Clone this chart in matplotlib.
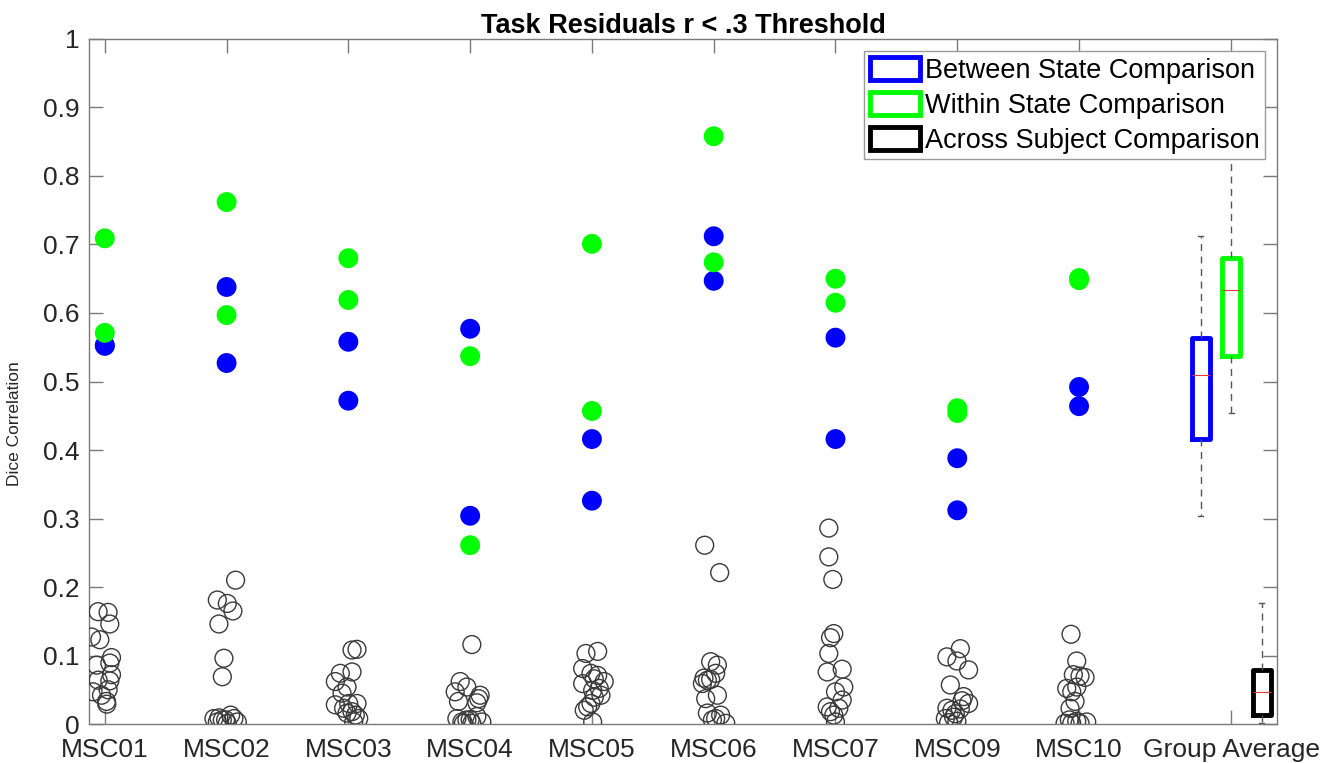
import numpy as np
import matplotlib.pyplot as plt
from matplotlib.patches import Patch

plt.rcParams['font.family'] = ['Liberation Sans', 'DejaVu Sans']

# --- data ---
subjects = ['MSC01', 'MSC02', 'MSC03', 'MSC04', 'MSC05', 'MSC06', 'MSC07', 'MSC09', 'MSC10']

# between-state dice (two per subject)
between = [[0.553, 0.552], [0.638, 0.527], [0.558, 0.472], [0.577, 0.304], [0.416, 0.326],
           [0.712, 0.647], [0.564, 0.416], [0.388, 0.312], [0.492, 0.464]]
# within-state dice (two per subject)
within = [[0.709, 0.571], [0.762, 0.597], [0.680, 0.619], [0.537, 0.261], [0.701, 0.457],
          [0.858, 0.674], [0.650, 0.615], [0.461, 0.454], [0.651, 0.648]]

# across-subject dice (16 per subject) and their horizontal scatter offsets
across = [
    [0.164, 0.163, 0.146, 0.127, 0.123, 0.097, 0.086, 0.089, 0.072, 0.064, 0.063, 0.047, 0.050, 0.042, 0.033, 0.029],
    [0.210, 0.181, 0.176, 0.165, 0.146, 0.096, 0.069, 0.008, 0.009, 0.006, 0.013, 0.008, 0.003, 0.003, 0.001, 0.006],
    [0.108, 0.109, 0.076, 0.074, 0.062, 0.054, 0.045, 0.028, 0.023, 0.030, 0.030, 0.018, 0.013, 0.008, 0.003, 0.016],
    [0.116, 0.062, 0.054, 0.047, 0.042, 0.037, 0.033, 0.031, 0.008, 0.003, 0.006, 0.001, 0.011, 0.003, 0.001, 0.006],
    [0.103, 0.106, 0.081, 0.074, 0.071, 0.062, 0.059, 0.066, 0.052, 0.049, 0.042, 0.039, 0.030, 0.020, 0.003, 0.025],
    [0.261, 0.221, 0.091, 0.086, 0.074, 0.067, 0.064, 0.059, 0.065, 0.037, 0.042, 0.016, 0.013, 0.006, 0.001, 0.008],
    [0.286, 0.244, 0.211, 0.132, 0.126, 0.103, 0.076, 0.080, 0.054, 0.047, 0.035, 0.025, 0.018, 0.003, 0.013, 0.023],
    [0.110, 0.098, 0.092, 0.079, 0.057, 0.040, 0.030, 0.034, 0.023, 0.020, 0.015, 0.022, 0.008, 0.002, 0.004, 0.010],
    [0.131, 0.092, 0.072, 0.068, 0.070, 0.052, 0.054, 0.047, 0.023, 0.033, 0.001, 0.001, 0.001, 0.003, 0.004, 0.006],
]
across_jitter = [
    [-0.055, 0.027, 0.041, -0.109, -0.041, 0.055, -0.068, 0.041, 0.055, -0.055, 0.041, -0.096, 0.027, -0.027, 0.014, 0.016],
    [0.074, -0.076, 0.006, 0.052, -0.063, -0.022, -0.035, -0.104, -0.063, -0.008, 0.033, 0.060, 0.088, -0.076, 0.006, -0.035],
    [0.030, 0.071, 0.030, -0.066, -0.107, -0.011, -0.052, -0.107, -0.039, 0.071, 0.003, 0.030, 0.057, 0.085, 0.044, -0.011],
    [0.014, -0.082, -0.027, -0.123, 0.082, 0.070, -0.096, 0.055, -0.109, -0.068, -0.027, 0.014, 0.055, 0.096, -0.055, 0.000],
    [-0.049, 0.047, -0.076, -0.008, 0.047, 0.101, -0.076, 0.019, 0.060, 0.006, 0.074, 0.019, -0.008, -0.063, 0.006, -0.035],
    [-0.074, 0.049, -0.025, 0.030, 0.016, -0.080, -0.052, -0.093, -0.025, -0.066, 0.030, -0.052, 0.057, -0.011, 0.099, 0.016],
    [-0.055, -0.055, -0.022, -0.014, -0.041, -0.055, -0.068, 0.055, 0.068, 0.000, 0.055, -0.068, -0.041, 0.000, -0.014, 0.027],
    [0.025, -0.085, -0.003, 0.093, -0.057, 0.052, 0.093, 0.039, -0.085, -0.044, -0.016, 0.025, -0.098, -0.071, -0.003, -0.030],
    [-0.066, -0.019, -0.047, 0.049, 0.008, -0.101, -0.019, -0.060, -0.074, -0.033, -0.115, -0.060, 0.008, 0.063, -0.019, -0.080],
]

labels = ['Between State Comparison', 'Within State Comparison', 'Across Subject Comparison']
colors = ['#0000ff', '#00ff00', '#000000']


def box_stats(vals):
    # quartiles the way MATLAB's boxplot computes them, whiskers at 1.5 IQR, no outliers drawn
    v = np.sort(np.asarray(vals, dtype=float))
    q1, med, q3 = np.percentile(v, [25, 50, 75], method='hazen')
    iqr = q3 - q1
    lo = v[v >= q1 - 1.5 * iqr].min()
    hi = v[v <= q3 + 1.5 * iqr].max()
    return dict(med=med, q1=q1, q3=q3, whislo=lo, whishi=hi, fliers=[])


fig = plt.figure(figsize=(13.36, 7.63), dpi=100)
ax = fig.add_axes([0.0666, 0.0511, 0.8892, 0.8978])

xs = np.arange(1, len(subjects) + 1)
for i, x in enumerate(xs):
    ax.scatter(x + np.array(across_jitter[i]), across[i], s=165, facecolors='none',
               edgecolors='#3a3a3a', linewidths=1.0, zorder=3)
    ax.scatter([x] * len(between[i]), between[i], s=205, color=colors[0], edgecolors='none', zorder=4)
    ax.scatter([x] * len(within[i]), within[i], s=205, color=colors[1], edgecolors='none', zorder=4)

# group average boxes
group_x = len(subjects) + 1
pooled = [sum(between, []), sum(within, []), sum(across, [])]
for k, vals in enumerate(pooled):
    ax.bxp([box_stats(vals)], positions=[group_x + 0.25 * k], widths=0.15, showfliers=False,
           boxprops=dict(color=colors[k], linewidth=3.5),
           medianprops=dict(color='#e8392f', linewidth=0.8),
           whiskerprops=dict(color='#555555', linewidth=1.0, linestyle=(0, (5, 4))),
           capprops=dict(color='#555555', linewidth=1.0), capwidths=0.04,
           manage_ticks=False, zorder=2)

ax.set_xlim(0.87, 10.625)
ax.set_ylim(0, 1)
ax.set_xticks(list(xs) + [group_x + 0.25])
ax.set_xticklabels(subjects + ['Group Average'])
ax.set_yticks(np.arange(0, 1.01, 0.1))
ax.set_yticklabels(['0'] + [f'{t:.1f}' for t in np.arange(0.1, 0.95, 0.1)] + ['1'])

for sp in ax.spines.values():
    sp.set_color('#7a7a7a')
    sp.set_linewidth(1.0)
ax.tick_params(direction='in', length=10, width=1.0, color='#7a7a7a', top=True, right=True,
               labelsize=19, labelcolor='#262626')
ax.tick_params(axis='x', pad=10)
ax.tick_params(axis='y', pad=7)

ax.set_ylabel('Dice Correlation', fontsize=12.5, color='#262626')
ax.yaxis.set_label_coords(-0.056, 0.438)
ax.set_title('Task Residuals r < .3 Threshold', fontsize=19.5, fontweight='bold', pad=4)

handles = [Patch(facecolor='white', edgecolor=c, linewidth=3.5) for c in colors]
leg = ax.legend(handles, labels, loc='upper right', fontsize=19.5, frameon=True, fancybox=False,
                framealpha=1, edgecolor='#9a9a9a', handlelength=1.85, handleheight=0.95,
                handletextpad=0.18, labelspacing=0.3, borderpad=0.2, borderaxespad=0.45)
leg.get_frame().set_linewidth(1.0)

fig.savefig('out.png', dpi=100)
